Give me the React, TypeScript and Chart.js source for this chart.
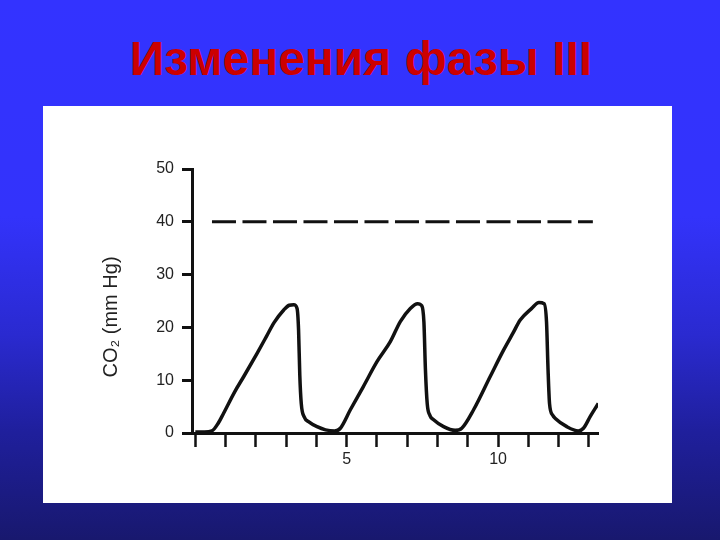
import React, { useEffect, useRef } from "react";
import { Chart, registerables } from "chart.js";

Chart.register(...registerables);

const slideTitle = "Изменения фазы III";
const yAxisTitle = "CO₂ (mm Hg)";

// time axis (x) and CO2 (y) readings of the capnogram
const timeValues = [
  0, 0.3, 0.55, 0.75, 0.93, 1.3, 1.6, 2.04, 2.35, 2.6, 2.92, 3.1, 3.25, 3.36, 3.41, 3.45, 3.5, 3.6, 3.75, 4.02, 4.3, 4.6,
  4.79, 5.12, 5.55, 6.0, 6.44, 6.77, 7.1, 7.34, 7.48, 7.55, 7.6, 7.66, 7.75, 7.87, 8.2, 8.58,
  8.8, 9.19, 9.74, 10.18, 10.5, 10.73, 11.11, 11.35, 11.52, 11.6, 11.65, 11.7, 11.8, 11.9, 12.27, 12.65,
  12.82, 13.05, 13.31,
];
const co2Values = [
  0.2, 0.2, 0.4, 1.8, 3.7, 7.8, 10.7, 15.1, 18.3, 20.9, 23.3, 24.2, 24.3, 23.6, 19.5, 11, 5.5, 3, 2.1, 1.2, 0.6, 0.4,
  0.9, 4.4, 8.8, 13.5, 17.3, 21.1, 23.6, 24.5, 24.1, 21, 12, 5.5, 3.3, 2.5, 1.2, 0.5,
  0.9, 4.4, 10.7, 15.7, 19, 21.4, 23.6, 24.7, 24.5, 21, 12, 5.5, 3.4, 2.7, 1.2, 0.4,
  0.9, 3.2, 5.6,
];

const referenceLevel = 40;
const referenceStart = 0.55;
const referenceEnd = 13.13;

const xMin = -0.11;
const xMax = 13.3;
const xTickValues = [0, 1, 2, 3, 4, 5, 6, 7, 8, 9, 10, 11, 12, 13];
const xLabelled = [5, 10];
const yMin = 0;
const yMax = 50;
const yTickValues = [0, 10, 20, 30, 40, 50];

export default function App() {
  const canvasRef = useRef<HTMLCanvasElement | null>(null);

  useEffect(() => {
    const canvas = canvasRef.current;
    if (!canvas) return;
    const yTitlePlugin = {
      id: "yTitle",
      afterDraw(chart: any) {
        const { ctx, chartArea } = chart;
        ctx.save();
        ctx.translate(chartArea.left - 81, chartArea.bottom - 116);
        ctx.rotate(-Math.PI / 2);
        ctx.font = "20px 'Liberation Sans', Arial, sans-serif";
        ctx.fillStyle = "#222";
        ctx.textAlign = "center";
        ctx.textBaseline = "middle";
        ctx.fillText(yAxisTitle, 0, 0);
        ctx.restore();
      },
    };
    const chart = new Chart(canvas, {
      type: "line",
      data: {
        datasets: [
          {
            data: timeValues.map((t, i) => ({ x: t, y: co2Values[i] })),
            borderColor: "#111",
            borderWidth: 3.5,
            pointRadius: 0,
            cubicInterpolationMode: "monotone",
            fill: false,
          },
          {
            data: [
              { x: referenceStart, y: referenceLevel },
              { x: referenceEnd, y: referenceLevel },
            ],
            borderColor: "#111",
            borderWidth: 3,
            borderDash: [24, 6.5],
            pointRadius: 0,
            fill: false,
          },
        ],
      },
      options: {
        animation: false,
        responsive: false,
        events: [],
        layout: { padding: { left: 0, top: 63, right: 74, bottom: 0 } },
        plugins: { legend: { display: false }, tooltip: { enabled: false }, title: { display: false } },
        scales: {
          x: {
            type: "linear",
            min: xMin,
            max: xMax,
            afterBuildTicks: (scale: any) => {
              scale.ticks = xTickValues.map((v) => ({ value: v }));
            },
            afterFit: (scale: any) => {
              scale.height = 70;
            },
            border: { display: true, color: "#111", width: 3 },
            grid: {
              display: true,
              drawOnChartArea: false,
              drawTicks: true,
              tickLength: 14,
              tickWidth: 2.5,
              tickColor: "#111",
            },
            ticks: {
              autoSkip: false,
              maxRotation: 0,
              padding: 3,
              color: "#222",
              font: { family: "'Liberation Sans', Arial, sans-serif", size: 16 },
              callback: (v: any) => (xLabelled.includes(Number(v)) ? String(v) : ""),
            },
          },
          y: {
            type: "linear",
            min: yMin,
            max: yMax,
            afterBuildTicks: (scale: any) => {
              scale.ticks = yTickValues.map((v) => ({ value: v }));
            },
            afterFit: (scale: any) => {
              scale.width = 149;
            },
            border: { display: true, color: "#111", width: 3 },
            grid: {
              display: true,
              drawOnChartArea: false,
              drawTicks: true,
              tickLength: 10,
              tickWidth: 3,
              tickColor: "#111",
            },
            ticks: {
              padding: 8,
              color: "#222",
              font: { family: "'Liberation Sans', Arial, sans-serif", size: 16 },
            },
          },
        },
      },
      plugins: [yTitlePlugin],
    } as any);
    return () => chart.destroy();
  }, []);

  return (
    <div
      style={{
        position: "fixed",
        left: 0,
        top: 0,
        width: 720,
        height: 540,
        overflow: "hidden",
        background:
          "linear-gradient(to bottom, #3333ff 0%, #3333fb 40%, #2a2ad0 62%, #1f1f9c 80%, #18186e 100%)",
      }}
    >
      <div
        style={{
          position: "absolute",
          left: 0,
          top: 35,
          width: 720,
          textAlign: "center",
          fontFamily: "'Liberation Sans', Arial, sans-serif",
          fontWeight: "bold",
          fontSize: 48,
          lineHeight: "48px",
          color: "#cc0000",
          paddingLeft: 2,
          boxSizing: "border-box",
          whiteSpace: "nowrap",
        }}
      >
        {slideTitle}
      </div>
      <div
        style={{
          position: "absolute",
          left: 43,
          top: 106,
          width: 629,
          height: 397,
          background: "#ffffff",
        }}
      >
        <canvas ref={canvasRef} width={629} height={397} style={{ display: "block" }} />
      </div>
    </div>
  );
}
